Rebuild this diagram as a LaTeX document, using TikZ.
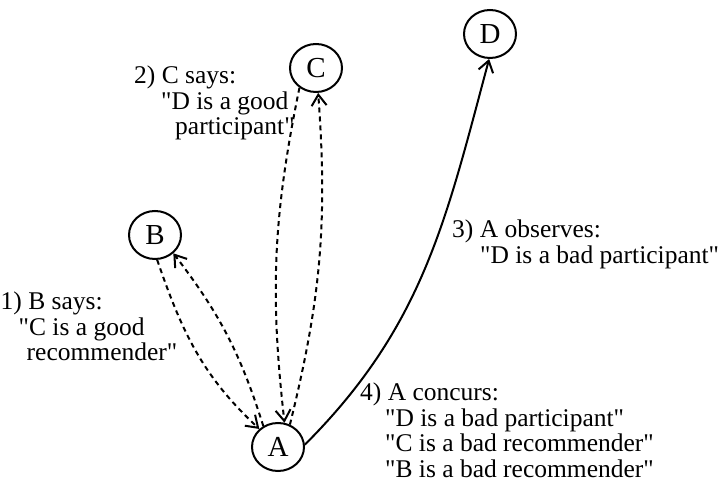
\documentclass[tikz,border=0pt]{standalone}
\usepackage{fontspec}
\setmainfont{Liberation Serif}[Ligatures=TeXOff]
\usetikzlibrary{shapes.geometric,arrows.meta}

\begin{document}
\begin{tikzpicture}[
    x=1pt, y=1pt,
    agent/.style={draw, ellipse, line width=2pt, inner sep=0pt, minimum width=52pt, minimum height=48pt, font=\fontsize{29}{30}\selectfont},
    note/.style={anchor=north west, align=left, inner sep=0pt, font=\fontsize{25.5}{25.5}\selectfont},
    tip/.style={-{Straight Barb[length=11pt, width=15pt]}, line width=2pt},
    claim/.style={tip, dash pattern=on 5pt off 4pt},
    seen/.style={tip}
]
\useasboundingbox (0,0) rectangle (726,482);

\node[agent] at (278,35) (A) {A};
\node[agent] at (155,247) (B) {B};
\node[agent] at (316,414) (C) {C};
\node[agent] at (490,448) (D) {D};

\node[note] at (0.5,190) (saysB) {1) B says:\\\hspace*{18pt}"C is a good\\\hspace*{26pt}recommender"};
\node[note] at (134,416) (saysC) {2) C says:\\\hspace*{27pt}"D is a good\\\hspace*{41pt}participant"};
\node[note] at (452,262) (observes) {3) A observes:\\\hspace*{28pt}"D is a bad participant"};
\node[note] at (360,99) (concurs) {4) A concurs:\\\hspace*{25pt}"D is a bad participant"\\\hspace*{25pt}"C is a bad recommender"\\\hspace*{25pt}"B is a bad recommender"};

% recommendations and the replies to them
\draw[claim] (B.-85) to[out=-71, in=137] (A.136);
\draw[claim] (A.125) to[bend right=10] (B.-45);
\draw[claim] (C.-130) to[bend right=9] (A.75);
\draw[claim] (A.62) to[bend right=9] (C.-85);

% direct observation
\draw[seen] (A.5) to[out=45, in=-105] (D.-92);
\end{tikzpicture}
\end{document}
